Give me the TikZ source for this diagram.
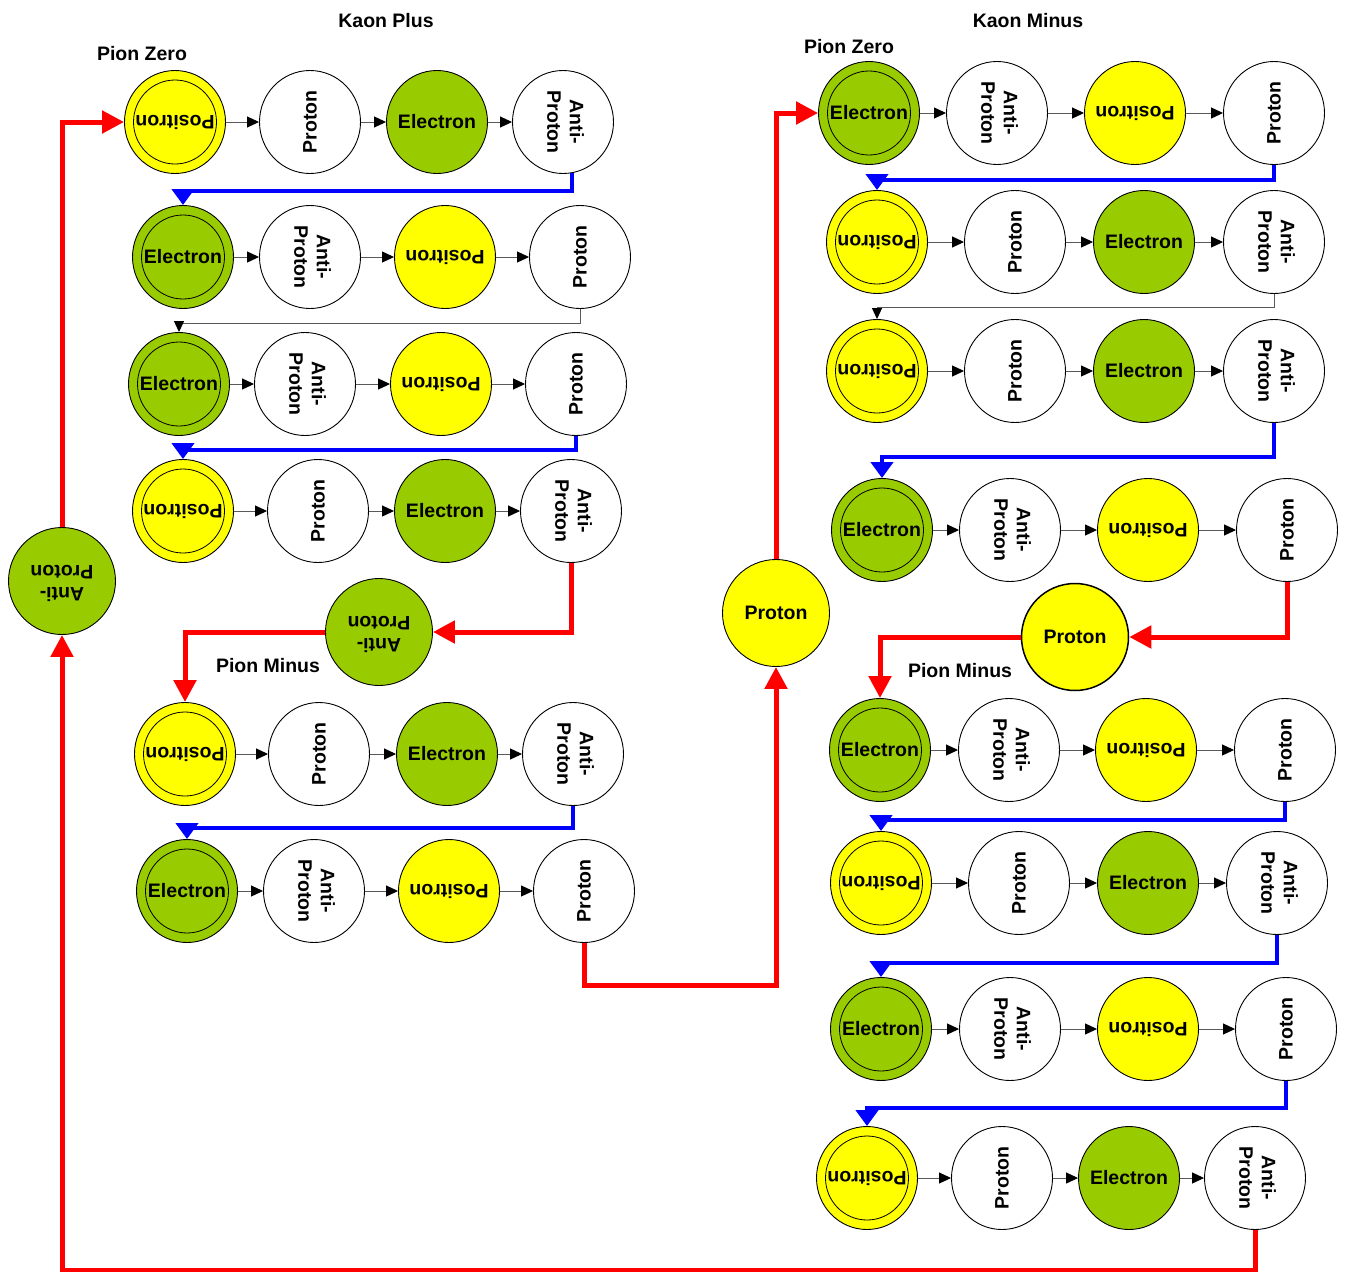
\documentclass[tikz,border=0pt]{standalone}
\usepackage{fontspec}
\setmainfont{Liberation Sans}
\usetikzlibrary{shapes.geometric,arrows.meta}
\definecolor{grn}{HTML}{99CC00}
\definecolor{yel}{HTML}{FFFF00}
\definecolor{redc}{HTML}{FF0000}
\definecolor{bluec}{HTML}{0000FF}
\newcommand\tPos{\rotatebox{180}{Positron}}
\newcommand\tPro{\rotatebox{90}{Proton}}
\newcommand\tAP{\rotatebox{-90}{\begin{tabular}{@{}c@{}}Anti-\\Proton\end{tabular}}}
\newcommand\tAPg{\rotatebox{180}{\begin{tabular}{@{}c@{}}Anti-\\Proton\end{tabular}}}
\begin{document}
\begin{tikzpicture}[x=1pt,y=-1pt,
  font=\fontsize{19.5}{22.5}\selectfont\bfseries,
  every label/.style={inner sep=0pt},
  pnode/.style={ellipse,draw=black,line width=0.9pt,minimum width=101pt,minimum height=103pt,inner sep=0pt},
  wh/.style={pnode,fill=white},
  yl/.style={pnode,fill=yel},
  gr/.style={pnode,fill=grn},
  ring/.style={path picture={\draw[line width=0.8pt] (path picture bounding box.center) ellipse [x radius=41.5pt, y radius=42pt];}},
  dy/.style={yl,ring},
  dg/.style={gr,ring},
  big/.style={ellipse,draw=black,line width=0.9pt,minimum width=107pt,minimum height=107pt,inner sep=0pt},
  rar/.style={draw=black!65,line width=1pt,-{Triangle[length=12pt,width=11pt,color=black]}},
  gar/.style={draw=black!65,line width=1pt,-{Triangle[length=11pt,width=10pt,color=black]}},
  bar/.style={draw=bluec,line width=4.5pt,-{Triangle[length=16pt,width=22pt]}},
  redar/.style={draw=redc,line width=5pt,-{Triangle[length=22pt,width=22pt]}},
  ttl/.style={inner sep=0pt}
]
\path[use as bounding box] (0,0) rectangle (1347,1272);

% titles
\node[ttl] (tkp) at (386,21) {Kaon Plus};
\node[ttl] (tpz1) at (142,54) {Pion Zero};
\node[ttl] (tpm1) at (268,666) {Pion Minus};
\node[ttl] (tkm) at (1028,21) {Kaon Minus};
\node[ttl] (tpz2) at (849,47) {Pion Zero};
\node[ttl] (tpm2) at (960,671) {Pion Minus};

% Left column
\node[dy,label={center:\tPos}] (l1a) at (175,122) {};
\node[wh,label={center:\tPro}] (l1b) at (310,122) {};
\node[gr,label={center:Electron}] (l1c) at (437,122) {};
\node[wh,label={center:\tAP}] (l1d) at (563,122) {};

\node[dg,label={center:Electron}] (l2a) at (183,257) {};
\node[wh,label={center:\tAP}] (l2b) at (310,257) {};
\node[yl,label={center:\tPos}] (l2c) at (445,257) {};
\node[wh,label={center:\tPro}] (l2d) at (580,257) {};

\node[dg,label={center:Electron}] (l3a) at (179,384) {};
\node[wh,label={center:\tAP}] (l3b) at (305,384) {};
\node[yl,label={center:\tPos}] (l3c) at (441,384) {};
\node[wh,label={center:\tPro}] (l3d) at (576,384) {};

\node[dy,label={center:\tPos}] (l4a) at (183,511) {};
\node[wh,label={center:\tPro}] (l4b) at (318,511) {};
\node[gr,label={center:Electron}] (l4c) at (445,511) {};
\node[wh,label={center:\tAP}] (l4d) at (571,511) {};

\node[dy,label={center:\tPos}] (l5a) at (185,754) {};
\node[wh,label={center:\tPro}] (l5b) at (319,754) {};
\node[gr,label={center:Electron}] (l5c) at (447,754) {};
\node[wh,label={center:\tAP}] (l5d) at (573,754) {};

\node[dg,label={center:Electron}] (l6a) at (187,891) {};
\node[wh,label={center:\tAP}] (l6b) at (314,891) {};
\node[yl,label={center:\tPos}] (l6c) at (449,891) {};
\node[wh,label={center:\tPro}] (l6d) at (584,891) {};

% Right column
\node[dg,label={center:Electron}] (r1a) at (869,113) {};
\node[wh,label={center:\tAP}] (r1b) at (997,113) {};
\node[yl,label={center:\tPos}] (r1c) at (1135,113) {};
\node[wh,label={center:\tPro}] (r1d) at (1274,113) {};

\node[dy,label={center:\tPos}] (r2a) at (877,242) {};
\node[wh,label={center:\tPro}] (r2b) at (1015,242) {};
\node[gr,label={center:Electron}] (r2c) at (1144,242) {};
\node[wh,label={center:\tAP}] (r2d) at (1274,242) {};

\node[dy,label={center:\tPos}] (r3a) at (877,371) {};
\node[wh,label={center:\tPro}] (r3b) at (1015,371) {};
\node[gr,label={center:Electron}] (r3c) at (1144,371) {};
\node[wh,label={center:\tAP}] (r3d) at (1274,371) {};

\node[dg,label={center:Electron}] (r4a) at (882,530) {};
\node[wh,label={center:\tAP}] (r4b) at (1010,530) {};
\node[yl,label={center:\tPos}] (r4c) at (1148,530) {};
\node[wh,label={center:\tPro}] (r4d) at (1287,530) {};

\node[dg,label={center:Electron}] (r5a) at (880,750) {};
\node[wh,label={center:\tAP}] (r5b) at (1009,750) {};
\node[yl,label={center:\tPos}] (r5c) at (1146,750) {};
\node[wh,label={center:\tPro}] (r5d) at (1285,750) {};

\node[dy,label={center:\tPos}] (r6a) at (881,883) {};
\node[wh,label={center:\tPro}] (r6b) at (1019,883) {};
\node[gr,label={center:Electron}] (r6c) at (1148,883) {};
\node[wh,label={center:\tAP}] (r6d) at (1277,883) {};

\node[dg,label={center:Electron}] (r7a) at (881,1029) {};
\node[wh,label={center:\tAP}] (r7b) at (1010,1029) {};
\node[yl,label={center:\tPos}] (r7c) at (1148,1029) {};
\node[wh,label={center:\tPro}] (r7d) at (1286,1029) {};

\node[dy,label={center:\tPos}] (r8a) at (867,1178) {};
\node[wh,label={center:\tPro}] (r8b) at (1002,1178) {};
\node[gr,label={center:Electron}] (r8c) at (1129,1178) {};
\node[wh,label={center:\tAP}] (r8d) at (1255,1178) {};

% big nodes
\node[big,fill=grn,label={center:\tAPg}] (gL) at (62,581) {};
\node[big,fill=grn,label={center:\tAPg}] (gM) at (379,632) {};
\node[big,fill=yel,label={center:Proton}] (yM) at (776,613) {};
\node[big,fill=yel,line width=1.5pt,label={center:Proton}] (yR) at (1075,637) {};

% row arrows
\foreach \rw in {l1,l2,l3,l4,l5,l6,r1,r2,r3,r4,r5,r6,r7,r8}{
  \draw[rar] (\rw a.east) -- (\rw b.west);
  \draw[rar] (\rw b.east) -- (\rw c.west);
  \draw[rar] (\rw c.east) -- (\rw d.west);
}

% blue connectors
\draw[bar] (l1d.-80) -- ++(0,18) -| (l2a.north);
\draw[bar] (l3d.south) -- ++(0,14) -| (l4a.north);
\draw[bar] (l5d.south) -- ++(0,22) -| (l6a.north);
\draw[bar] (r1d.south) -- ++(0,15) -| (r2a.north);
\draw[bar] (r3d.south) -- ++(0,34) -| (r4a.north);
\draw[bar] (r5d.south) -- ++(0,18) -| (r6a.north);
\draw[bar] (r6d.south) -- ++(0,28) -| (r7a.north);
\draw[bar] (r7d.south) -- ++(0,27) -| (r8a.north);

% gray connectors
\draw[gar] (l2d.south) -- ++(0,15) -| (l3a.north);
\draw[gar] (r2d.south) -- ++(0,14) -| (r3a.north);

% red connectors
\draw[redar] (l4d.south) |- (gM.east);
\draw[redar] (gM.west) -| (l5a.north);
\draw[redar] (l6d.south) -- ++(0,43) -| (yM.south);
\draw[redar] (yM.north) |- (r1a.west);
\draw[redar] (r4d.south) |- (yR.east);
\draw[redar] (yR.west) -| (r5a.north);
\draw[redar] (r8d.south) -- ++(0,41) -| (gL.south);
\draw[redar] (gL.north) |- (l1a.west);
\end{tikzpicture}
\end{document}
